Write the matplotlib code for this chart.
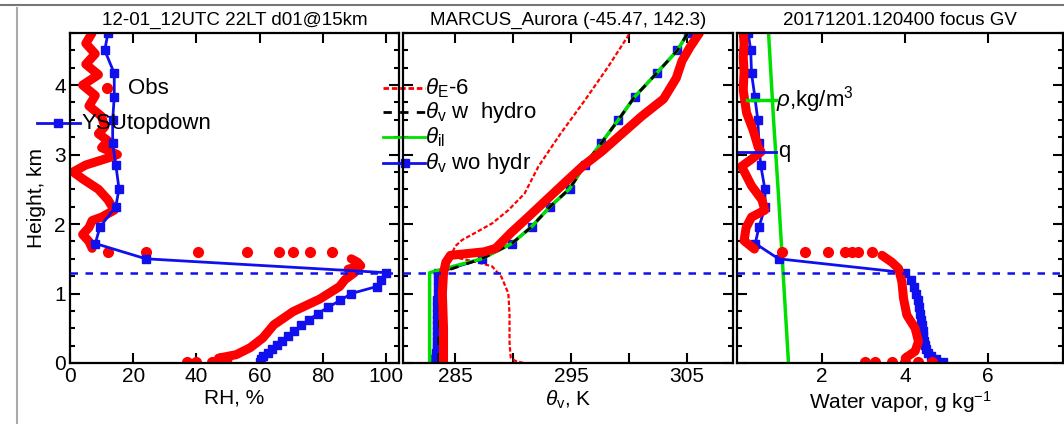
import numpy as np
import matplotlib
matplotlib.use('Agg')
import matplotlib.pyplot as plt
from matplotlib.lines import Line2D
from matplotlib.ticker import MultipleLocator

plt.rcParams['font.family'] = ['Liberation Sans', 'DejaVu Sans']
plt.rcParams['mathtext.fontset'] = 'custom'
plt.rcParams['mathtext.rm'] = 'Liberation Sans'
plt.rcParams['mathtext.it'] = 'Liberation Sans:italic'

# model levels (km)
lev = [0.02, 0.06, 0.1, 0.15, 0.2, 0.26, 0.32, 0.39, 0.46, 0.54, 0.62, 0.71, 0.8, 0.9,
       1.0, 1.1, 1.2, 1.3, 1.5, 1.72, 1.96, 2.25, 2.51, 2.85, 3.16, 3.5, 3.83, 4.17, 4.5, 4.75]

# panel 1: RH
rh_mod = [60, 60.5, 61, 62.5, 64, 65.5, 67, 69, 71, 73, 75.5, 78.5, 81.5, 85.5,
          89, 97, 98.5, 100, 24, 8, 9.5, 14.5, 15.5, 14.5, 13.5, 13.5, 14, 14, 11, 12]
# obs below the inversion
rh_lo_h = [0.05, 0.07, 0.12, 0.22, 0.36, 0.55, 0.74, 0.92, 1.1, 1.2, 1.3, 1.35, 1.4, 1.45, 1.5]
rh_lo = [50, 47, 52.6, 57, 61, 64.5, 70.6, 79, 85.3, 87, 90, 88, 92, 91, 89]
# obs above the inversion
rh_up_h = [1.65, 1.75, 1.85, 1.95, 2.05, 2.1, 2.2, 2.35, 2.5, 2.65, 2.75, 2.85, 2.95, 3.0, 3.1,
           3.2, 3.3, 3.4, 3.55, 3.7, 3.85, 4.0, 4.15, 4.3, 4.45, 4.6, 4.75]
rh_up = [7, 6, 4, 6, 7, 10, 14, 12, 9, 4, 1, 5, 12, 15, 10,
         12, 9, 11, 10, 6, 8, 4, 9, 5, 8, 5, 7]
rh_dots_h = [1.6, 1.6, 1.6, 1.6, 1.6, 1.6, 1.6, 1.6, 0.02, 0.02, 0.02, 0.02]
rh_dots = [12, 24, 40.5, 56, 66, 70.5, 76, 83, 37, 40, 45, 48]

# panel 2: theta
thv_mod = [283.3, 283.3, 283.35, 283.35, 283.4, 283.4, 283.4, 283.4, 283.4, 283.4, 283.45, 283.45,
           283.45, 283.45, 283.5, 283.5, 283.5, 283.5, 287.3, 289.9, 291.6, 293.2, 294.9, 296.2,
           297.6, 299.1, 300.5, 302.4, 304.2, 305.1]
thv_hyd = [283.6, 283.6, 283.6, 283.6, 283.6, 283.6, 283.6, 283.6, 283.65, 283.65, 283.65, 283.65,
           283.7, 283.7, 283.7, 283.7, 283.7, 283.7, 287.3, 289.9, 291.6, 293.2, 294.9, 296.2,
           297.6, 299.1, 300.5, 302.4, 304.2, 305.1]
thil = [282.8, 282.8, 282.8, 282.8, 282.8, 282.8, 282.8, 282.8, 282.8, 282.8, 282.8, 282.8,
        282.8, 282.8, 282.8, 282.8, 282.8, 282.8, 287.3, 289.9, 291.6, 293.2, 294.9, 296.2,
        297.6, 299.1, 300.5, 302.4, 304.2, 305.1]
thv_obs_h = [0.0, 0.5, 1.0, 1.3, 1.45, 1.55, 1.6, 1.65, 1.87, 2.1, 2.35, 2.6, 2.83, 3.05, 3.3,
             3.55, 3.8, 4.1, 4.35, 4.55, 4.75]
thv_obs = [284.0, 284.0, 283.9, 284.0, 284.2, 284.6, 287.5, 288.5, 289.8, 291.3, 292.9, 294.5,
           296.0, 297.7, 299.4, 301.1, 303.0, 304.1, 304.6, 305.3, 306.1]
the_h = [0.0, 0.03, 0.08, 0.3, 0.7, 1.0, 1.24, 1.39, 1.46, 1.51, 1.6, 1.68, 1.77, 1.87, 2.01,
         2.2, 2.44, 2.83, 3.3, 3.78, 4.26, 4.75]
the6 = [290.9, 290.2, 289.8, 289.7, 289.7, 289.6, 289.0, 288.2, 286.7, 285.3, 284.8, 285.0, 285.6,
        286.7, 288.2, 289.6, 291.0, 292.2, 294.1, 296.2, 298.2, 300.1]

# panel 3: water vapor
q_mod = [4.9, 4.75, 4.62, 4.55, 4.5, 4.48, 4.46, 4.44, 4.42, 4.4, 4.38, 4.36, 4.34, 4.3,
         4.26, 4.22, 4.15, 4.0, 0.95, 0.39, 0.48, 0.63, 0.62, 0.52, 0.48, 0.45, 0.38, 0.3, 0.28, 0.22]
q_lo_h = [0.07, 0.17, 0.31, 0.5, 0.69, 0.93, 1.17, 1.36, 1.45, 1.55]
q_lo = [4.0, 4.24, 4.32, 4.24, 4.04, 3.96, 3.92, 3.84, 3.68, 3.44]
q_up_h = [1.64, 1.76, 1.95, 2.1, 2.2, 2.35, 2.55, 2.83, 2.92, 3.04, 3.11, 3.35, 3.6, 3.93,
          4.2, 4.4, 4.6, 4.75]
q_up = [0.37, 0.12, 0.17, 0.3, 0.62, 0.55, 0.3, 0.06, 0.27, 0.53, 0.46, 0.34, 0.18, 0.1,
        0.12, 0.1, 0.12, 0.1]
q_dots_h = [1.6, 1.6, 1.6, 1.6, 1.6, 1.6, 1.6, 0.02, 0.02, 0.02, 0.02, 0.02, 0.02]
q_dots = [1.03, 1.59, 2.15, 2.55, 2.72, 2.87, 3.2, 3.04, 3.28, 3.68, 4.0, 4.3, 4.64]
rho_h = [0, 1.3, 2.5, 3.5, 4.75]
rho = [1.19, 1.06, 0.94, 0.83, 0.71]

pbl = 1.3
W, H = 1064, 424
fig = plt.figure(figsize=(W / 100, H / 100), dpi=100)


def box(l, r):
    return [l / W, 1 - 363 / H, (r - l) / W, 330 / H]


ax1 = fig.add_axes(box(70, 399))
ax2 = fig.add_axes(box(403, 733))
ax3 = fig.add_axes(box(737, 1063))

red = '#ff0000'
blue = '#1010ee'
green = '#00e000'
thick = dict(color=red, lw=6.5, solid_capstyle='round', solid_joinstyle='round')

for ax in (ax1, ax2, ax3):
    ax.set_ylim(0, 4.75)
    ax.yaxis.set_major_locator(MultipleLocator(1))
    ax.yaxis.set_minor_locator(MultipleLocator(0.25))
    ax.tick_params(which='both', direction='in', top=True, right=True, width=1.5,
                   labelsize=15, pad=3)
    ax.tick_params(which='major', length=7)
    ax.tick_params(which='minor', length=3.5)
    for s in ax.spines.values():
        s.set_linewidth(1.6)
    ax.axhline(pbl, color=blue, ls=(0, (3, 3)), lw=1.8, zorder=5)
ax2.tick_params(labelleft=False)
ax3.tick_params(labelleft=False)

# panel 1
ax1.plot(rh_lo, rh_lo_h, **thick)
ax1.plot(rh_up, rh_up_h, **thick)
ax1.plot(rh_dots, rh_dots_h, 'o', color=red, ms=7, ls='none')
ax1.plot(rh_mod, lev, color=blue, lw=2, marker='s', ms=5.5)
ax1.set_xlim(0, 104.1)
ax1.set_xticks([0, 20, 40, 60, 80, 100])
ax1.set_xlabel('RH, %', fontsize=15, labelpad=2)
ax1.set_ylabel('Height, km', fontsize=15, labelpad=6)
ax1.set_title('12-01_12UTC 22LT d01@15km', fontsize=13.5, pad=6)
ax1.plot([0.112], [0.833], 'o', color=red, ms=7, transform=ax1.transAxes, clip_on=False)
ax1.text(0.175, 0.833, 'Obs', transform=ax1.transAxes, fontsize=16, va='center')
ax1.plot([-0.10, 0.03], [0.727, 0.727], color=blue, lw=2, transform=ax1.transAxes, clip_on=False)
ax1.plot([-0.035], [0.727], 's', color=blue, ms=5.5, transform=ax1.transAxes, clip_on=False)
ax1.text(0.036, 0.727, 'YSUtopdown', transform=ax1.transAxes, fontsize=16, va='center')

# panel 2
ax2.plot(the6, the_h, color=red, lw=1.6, ls=(0, (2, 1)))
ax2.plot(thv_mod, lev, color=blue, lw=2, marker='s', ms=5.5)
ax2.plot(thil, lev, color=green, lw=2.5)
ax2.plot(thv_hyd, lev, color='black', lw=2, ls=(0, (3, 3)))
ax2.plot(thv_obs, thv_obs_h, **thick)
ax2.set_xlim(280.5, 309.0)
ax2.set_xticks([285, 290, 295, 300, 305])
ax2.set_xticklabels(['285', '', '295', '', '305'])
ax2.set_xlabel(r'$\theta_{\rm v}$, K', fontsize=15, labelpad=2)
ax2.set_title('MARCUS_Aurora (-45.47, 142.3)', fontsize=13.5, pad=6)
leg2 = [(0.833, red, (0, (2, 1)), None, r'$\theta_{\rm E}$-6'),
        (0.760, 'black', (0, (3, 3)), None, r'$\theta_{\rm v}$ w  hydro'),
        (0.685, green, '-', None, r'$\theta_{\rm il}$'),
        (0.606, blue, '-', 's', r'$\theta_{\rm v}$ wo hydr')]
for yy, c, ls, mk, lab in leg2:
    ax2.add_line(Line2D([-0.06, 0.067], [yy, yy], color=c, ls=ls, lw=2, transform=ax2.transAxes,
                        clip_on=False))
    if mk:
        ax2.plot([0.005], [yy], mk, color=c, ms=5.5, transform=ax2.transAxes, clip_on=False)
    ax2.text(0.067, yy, lab, transform=ax2.transAxes, fontsize=16, va='center')

# panel 3
ax3.plot(rho, rho_h, color=green, lw=2.5)
ax3.plot(q_mod, lev, color=blue, lw=2, marker='s', ms=5.5)
ax3.plot(q_lo, q_lo_h, **thick)
ax3.plot(q_up, q_up_h, **thick)
ax3.plot(q_dots, q_dots_h, 'o', color=red, ms=7, ls='none')
ax3.set_xlim(-0.05, 7.8)
ax3.set_xticks([2, 4, 6])
ax3.set_xlabel('Water vapor, g kg$^{-1}$', fontsize=15, labelpad=2)
ax3.set_title('20171201.120400 focus GV', fontsize=13.5, pad=6)
ax3.plot([0.03, 0.12], [0.797, 0.797], color=green, lw=2.5, transform=ax3.transAxes, clip_on=False)
ax3.text(0.12, 0.797, r'$\rho$,kg/m$^3$', transform=ax3.transAxes, fontsize=16, va='center')
ax3.plot([0.0, 0.12], [0.64, 0.64], color=blue, lw=2, transform=ax3.transAxes, clip_on=False)
ax3.text(0.125, 0.64, 'q', transform=ax3.transAxes, fontsize=16, va='center')

# screenshot frame lines
fig.add_artist(Line2D([17 / W, 17 / W], [0, 1 - 8 / H], color='#aaaaaa', lw=1.5))
fig.add_artist(Line2D([0, 1], [1 - 5 / H, 1 - 5 / H], color='#777777', lw=1.5))

fig.savefig('out.png', dpi=100)
